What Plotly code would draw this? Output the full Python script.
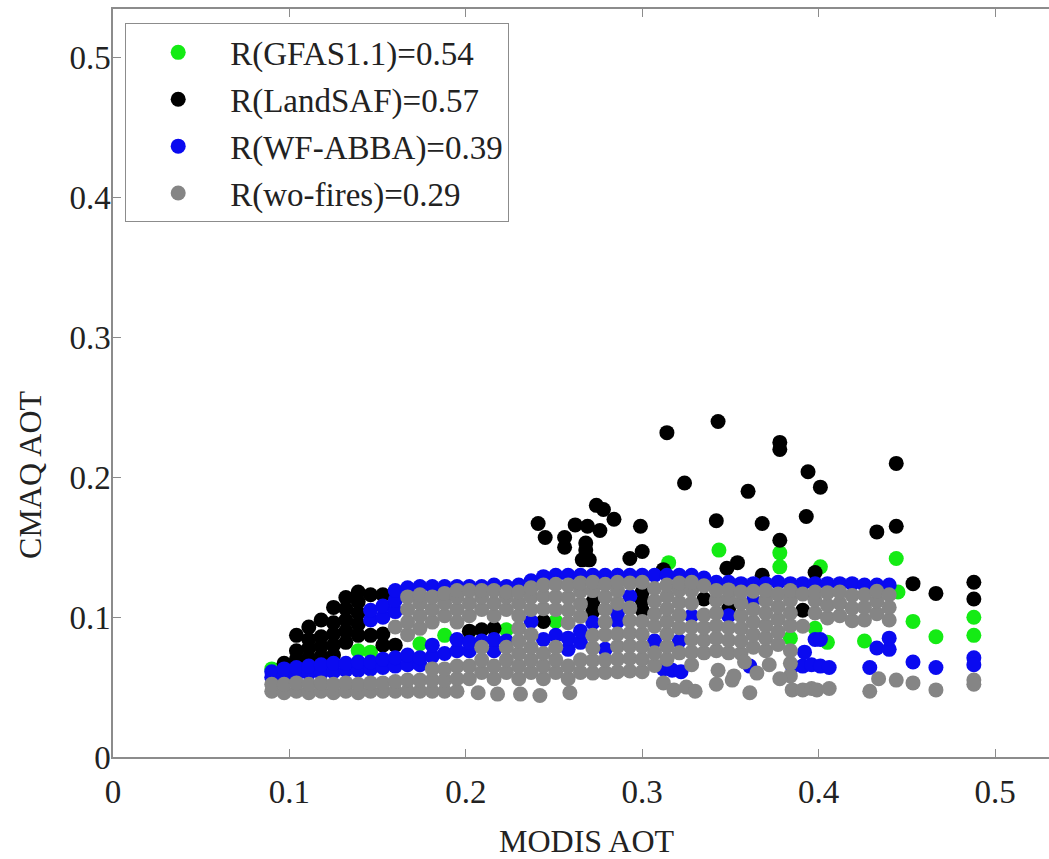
import plotly.graph_objects as go

# ---------------- data ----------------
band_x = [0.090, 0.097, 0.104, 0.111, 0.118, 0.125, 0.132, 0.139, 0.146, 0.153,
          0.160, 0.167, 0.174, 0.181, 0.188, 0.195, 0.202, 0.209, 0.216, 0.223,
          0.230, 0.237, 0.244, 0.251, 0.258, 0.265, 0.272, 0.279, 0.286, 0.293,
          0.300, 0.307, 0.314, 0.321, 0.328, 0.335, 0.342, 0.349, 0.356, 0.363,
          0.370, 0.377, 0.384, 0.391, 0.398, 0.405, 0.412, 0.419, 0.426, 0.433,
          0.440]

gray_cols = [
    [0.047, 0.052], [0.046, 0.052], [0.047, 0.053], [0.046, 0.052], [0.047, 0.053],
    [0.046, 0.052], [0.047, 0.053], [0.046, 0.052], [0.047, 0.053], [0.047, 0.053],
    [0.047, 0.054, 0.093],
    [0.047, 0.055, 0.0875, 0.0965, 0.1055, 0.1145],
    [0.047, 0.055, 0.092, 0.101, 0.110, 0.116],
    [0.047, 0.055, 0.063, 0.0965, 0.1055, 0.1145],
    [0.047, 0.055, 0.063, 0.101, 0.110, 0.117],
    [0.047, 0.056, 0.065, 0.0965, 0.1055, 0.1145, 0.119],
    [0.056, 0.065, 0.101, 0.110, 0.119],
    [0.0605, 0.0695, 0.0785, 0.1055, 0.1145, 0.119],
    [0.056, 0.065, 0.101, 0.110, 0.119],
    [0.0605, 0.0695, 0.0785, 0.1055, 0.1145, 0.118],
    [0.056, 0.065, 0.074, 0.083, 0.092, 0.101, 0.110, 0.118],
    [0.0605, 0.0695, 0.0785, 0.0875, 0.1055, 0.1145, 0.121],
    [0.056, 0.065, 0.074, 0.106, 0.115, 0.123],
    [0.0605, 0.0695, 0.0785, 0.1055, 0.1145, 0.1235],
    [0.056, 0.065, 0.096, 0.105, 0.114, 0.123],
    [0.0605, 0.0695, 0.1005, 0.1095, 0.1185, 0.1245],
    [0.060, 0.069, 0.078, 0.087, 0.119, 0.125],
    [0.0605, 0.0695, 0.0875, 0.0965, 0.1055, 0.1145, 0.1235],
    [0.061, 0.070, 0.079, 0.088, 0.110, 0.119, 0.125],
    [0.0615, 0.0705, 0.0795, 0.0885, 0.0975, 0.1065, 0.1245],
    [0.061, 0.070, 0.079, 0.088, 0.097, 0.125],
    [0.0655, 0.0745, 0.0935, 0.1025, 0.1115, 0.1205],
    [0.070, 0.079, 0.088, 0.097, 0.106, 0.115, 0.123],
    [0.0745, 0.0925, 0.1015, 0.1105, 0.1195, 0.1245],
    [0.066, 0.075, 0.084, 0.093, 0.110, 0.119, 0.125],
    [0.0745, 0.0835, 0.0925, 0.1015, 0.1225],
    [0.076, 0.085, 0.094, 0.103, 0.112, 0.119],
    [0.0745, 0.0835, 0.0925, 0.1135, 0.1195],
    [0.074, 0.083, 0.092, 0.101, 0.110, 0.118],
    [0.0785, 0.0875, 0.0965, 0.1055, 0.1185],
    [0.076, 0.085, 0.094, 0.103, 0.112, 0.119],
    [0.0805, 0.0895, 0.0985, 0.1075, 0.1165],
    [0.058, 0.067, 0.076, 0.094, 0.103, 0.112, 0.119],
    [0.0935, 0.1165],
    [0.103, 0.112, 0.118],
    [0.0995, 0.1085, 0.1175],
    [0.101, 0.110, 0.118],
    [0.0975, 0.1065, 0.1155],
    [0.098, 0.107, 0.116],
    [0.1025, 0.1115, 0.1185],
    [0.098, 0.107, 0.116],
]

blue_cols = [
    [0.057, 0.061], [0.058, 0.063], [0.059, 0.064], [0.060, 0.065], [0.060, 0.066],
    [0.061, 0.067], [0.062, 0.067], [0.062, 0.068], [0.063, 0.068, 0.098, 0.105],
    [0.064, 0.070, 0.100, 0.108], [0.065, 0.071, 0.104, 0.112, 0.119],
    [0.066, 0.073, 0.121], [0.066, 0.071, 0.122], [0.072, 0.080, 0.122],
    [0.074, 0.122], [0.076, 0.084, 0.122], [0.076, 0.082, 0.122], [0.083, 0.122],
    [0.076, 0.084, 0.123], [0.083, 0.122], [0.123], [0.097, 0.126], [0.084, 0.129],
    [0.087, 0.130], [0.077, 0.085, 0.130], [0.082, 0.090, 0.130], [0.096, 0.130],
    [0.077, 0.130], [0.097, 0.103, 0.130], [0.115, 0.130], [0.130], [0.083, 0.130],
    [0.130], [0.083, 0.130], [0.101, 0.130], [0.128], [0.125], [0.101, 0.125],
    [0.124], [0.112, 0.124], [0.124], [0.125], [0.124], [0.124], [0.084, 0.124],
    [0.124], [0.124], [0.124], [0.123], [0.078, 0.123], [0.077, 0.085, 0.123],
]

black_cols = [
    [], [0.067], [0.070, 0.076, 0.087], [0.071, 0.078, 0.084, 0.093],
    [0.072, 0.079, 0.086, 0.098], [0.073, 0.080, 0.088, 0.096, 0.107],
    [0.082, 0.090, 0.098, 0.106, 0.114], [0.087, 0.095, 0.103, 0.111, 0.118],
    [0.087, 0.116], [0.080, 0.088, 0.116], [0.080], [], [], [], [], [],
    [0.090], [0.091], [0.092], [], [], [], [0.097], [], [], [],
    [0.104, 0.111], [], [], [], [0.105, 0.112, 0.118], [], [], [], [],
    [0.113], [], [0.106], [], [], [], [], [], [0.105], [], [], [], [], [], [], [],
]

green_cols = [
    [0.063], [], [], [], [], [], [], [0.076], [0.075], [], [], [], [0.081], [],
    [0.087], [], [], [], [], [0.091], [], [], [], [0.097], [], [], [], [], [], [],
    [], [], [], [], [], [], [], [], [], [], [], [], [0.085], [], [0.092], [0.082],
    [], [], [0.083], [], [],
]

black_out_x = [0.241, 0.245, 0.256, 0.256, 0.262, 0.268, 0.268, 0.266, 0.270, 0.269,
               0.276, 0.274, 0.278, 0.284, 0.293, 0.299, 0.300, 0.314, 0.324, 0.312,
               0.343, 0.342, 0.348, 0.354, 0.360, 0.368, 0.368, 0.378, 0.378, 0.378,
               0.393, 0.394, 0.401, 0.398, 0.433, 0.444, 0.444, 0.4535, 0.4665, 0.488,
               0.488]
black_out_y = [0.167, 0.157, 0.157, 0.150, 0.166, 0.153, 0.148, 0.141, 0.141, 0.165,
               0.162, 0.180, 0.177, 0.170, 0.142, 0.165, 0.147, 0.232, 0.196, 0.134,
               0.240, 0.169, 0.135, 0.139, 0.190, 0.167, 0.130, 0.225, 0.220, 0.155,
               0.172, 0.204, 0.193, 0.132, 0.161, 0.165, 0.210, 0.124, 0.117, 0.125,
               0.113]

green_out_x = [0.3435, 0.378, 0.378, 0.444, 0.315, 0.401, 0.4535, 0.4665, 0.488, 0.488,
               0.445]
green_out_y = [0.148, 0.146, 0.136, 0.142, 0.139, 0.136, 0.097, 0.086, 0.100, 0.087,
               0.118]

blue_out_x = [0.312, 0.317, 0.322, 0.361, 0.385, 0.391, 0.396, 0.401, 0.406, 0.392,
              0.401, 0.429, 0.4535, 0.4665, 0.488, 0.488]
blue_out_y = [0.063, 0.062, 0.061, 0.065, 0.065, 0.065, 0.066, 0.065, 0.064, 0.075,
              0.084, 0.064, 0.068, 0.064, 0.071, 0.066]

gray_out_x = [0.207, 0.218, 0.231, 0.242, 0.259, 0.312, 0.318, 0.325, 0.330, 0.342,
              0.351, 0.361, 0.378, 0.385, 0.391, 0.396, 0.399, 0.406, 0.429, 0.434,
              0.444, 0.4535, 0.4665, 0.488, 0.488, 0.343, 0.352, 0.365, 0.372, 0.358]
gray_out_y = [0.046, 0.045, 0.045, 0.044, 0.046, 0.053, 0.048, 0.050, 0.047, 0.052,
              0.055, 0.046, 0.056, 0.048, 0.048, 0.049, 0.048, 0.049, 0.047, 0.056,
              0.055, 0.053, 0.048, 0.055, 0.052, 0.062, 0.058, 0.060, 0.066, 0.068]

series_names = ["R(GFAS1.1)=0.54", "R(LandSAF)=0.57", "R(WF-ABBA)=0.39", "R(wo-fires)=0.29"]
series_colors = ["#14EB14", "#000000", "#0A0AF0", "#858585"]

tick_vals = [0, 0.1, 0.2, 0.3, 0.4, 0.5]
tick_text = ["0", "0.1", "0.2", "0.3", "0.4", "0.5"]


def flatten(cols, extra_x, extra_y):
    xs, ys = [], []
    for x, col in zip(band_x, cols):
        for y in col:
            xs.append(x)
            ys.append(y)
    return xs + list(extra_x), ys + list(extra_y)


data = [
    flatten(green_cols, green_out_x, green_out_y),
    flatten(black_cols, black_out_x, black_out_y),
    flatten(blue_cols, blue_out_x, blue_out_y),
    flatten(gray_cols, gray_out_x, gray_out_y),
]

FONT = "Liberation Serif, Times New Roman, serif"

fig = go.Figure()
for i, ((xs, ys), name, col) in enumerate(zip(data, series_names, series_colors)):
    fig.add_trace(go.Scatter(
        x=xs, y=ys, mode="markers", name=name, legendgroup=str(i),
        marker=dict(color=col, size=15, line=dict(width=0)),
    ))

axis_common = dict(
    showline=True, linecolor="#8c8c8c", linewidth=1.5,
    ticks="inside", ticklen=8, tickcolor="#8c8c8c", tickwidth=1.2,
    showgrid=False, zeroline=False,
    tickfont=dict(family=FONT, size=33, color="#222222"),
    tickvals=tick_vals, ticktext=tick_text,
)

fig.update_layout(
    width=1058, height=859,
    margin=dict(l=113, r=0, t=9, b=102),
    paper_bgcolor="white", plot_bgcolor="white",
    xaxis=dict(range=[0, 0.5357], ticklabelstandoff=5, mirror="ticks", **axis_common),
    yaxis=dict(range=[0, 0.535], ticklabelstandoff=-6, mirror=False, **axis_common),
    showlegend=True,
    legend=dict(
        x=0.0127, y=0.981, xanchor="left", yanchor="top",
        font=dict(family=FONT, size=33, color="#222222"),
        bgcolor="white", bordercolor="#8c8c8c", borderwidth=1.2,
        tracegroupgap=1, itemwidth=94,
    ),
    annotations=[
        dict(text="MODIS AOT", xref="paper", yref="paper", x=0.5016, y=-0.1123,
             xanchor="center", yanchor="middle", showarrow=False,
             font=dict(family=FONT, size=32, color="#222222")),
        dict(text="CMAQ AOT", xref="paper", yref="paper", x=-0.0879, y=0.377,
             xanchor="center", yanchor="middle", showarrow=False, textangle=-90,
             font=dict(family=FONT, size=32, color="#222222")),
    ],
)

fig.write_html(
    "out.html",
    config={"displayModeBar": False},
    post_script="document.body.style.margin='0px';document.body.style.overflow='hidden';",
)
